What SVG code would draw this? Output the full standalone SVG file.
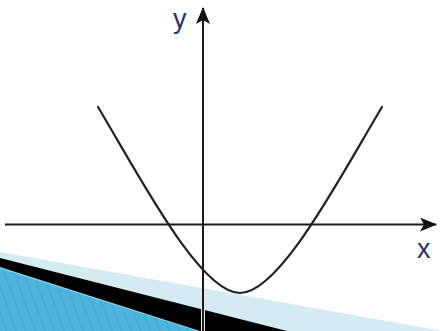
<svg xmlns="http://www.w3.org/2000/svg" width="440" height="331" viewBox="0 0 440 331">
  <style>
    .axis { stroke: #1a1a1a; stroke-width: 2; fill: none; }
    .halo { stroke: #e8e8e8; stroke-width: 4; fill: none; }
    .curve { stroke: #222; stroke-width: 2.2; fill: none; stroke-linecap: round; }
    .lbl { font-family: "Liberation Sans", Arial, sans-serif; font-size: 27px; fill: #28306a; }
  </style>
  <defs>
    <pattern id="hatch" width="9" height="9" patternUnits="userSpaceOnUse" patternTransform="rotate(-20)">
      <rect width="9" height="9" fill="#4db4dc"/>
      <line x1="1" y1="0" x2="1" y2="9" stroke="#40a3cb" stroke-width="1"/>
    </pattern>
    <marker id="arrow" viewBox="0 0 17 14" refX="16" refY="7" markerWidth="17" markerHeight="14" markerUnits="userSpaceOnUse" orient="auto">
      <path d="M0,0 L17,7 L0,14 L4,7 Z" fill="#111"/>
    </marker>
  </defs>

  <rect width="440" height="331" fill="#ffffff"/>

  <g id="decoration">
    <polygon points="0,252 440,330.5 440,331 0,331" fill="#d6eaf2"/>
    <polygon points="0,258 287,331 0,331" fill="#000000"/>
    <polygon points="0,267 200,331 0,331" fill="#8fd0e8"/>
    <polygon points="0,268.5 197,331 0,331" fill="url(#hatch)"/>
  </g>

  <g id="connectors">
    <line class="halo" x1="203" y1="290" x2="203" y2="331"/>
    <line id="x-axis" class="axis" x1="5" y1="224.5" x2="436" y2="224.5" marker-end="url(#arrow)"/>
    <line id="y-axis" class="axis" x1="203" y1="331" x2="203" y2="8" marker-end="url(#arrow)"/>
  </g>

  <g id="curve">
    <path class="curve" d="M98,107 C140,177 200,293 240,293 C280,293 340,177 382,107"/>
  </g>

  <g id="label-y">
    <text class="lbl" x="173" y="28">y</text>
  </g>
  <g id="label-x">
    <text class="lbl" x="417" y="258">x</text>
  </g>
</svg>
